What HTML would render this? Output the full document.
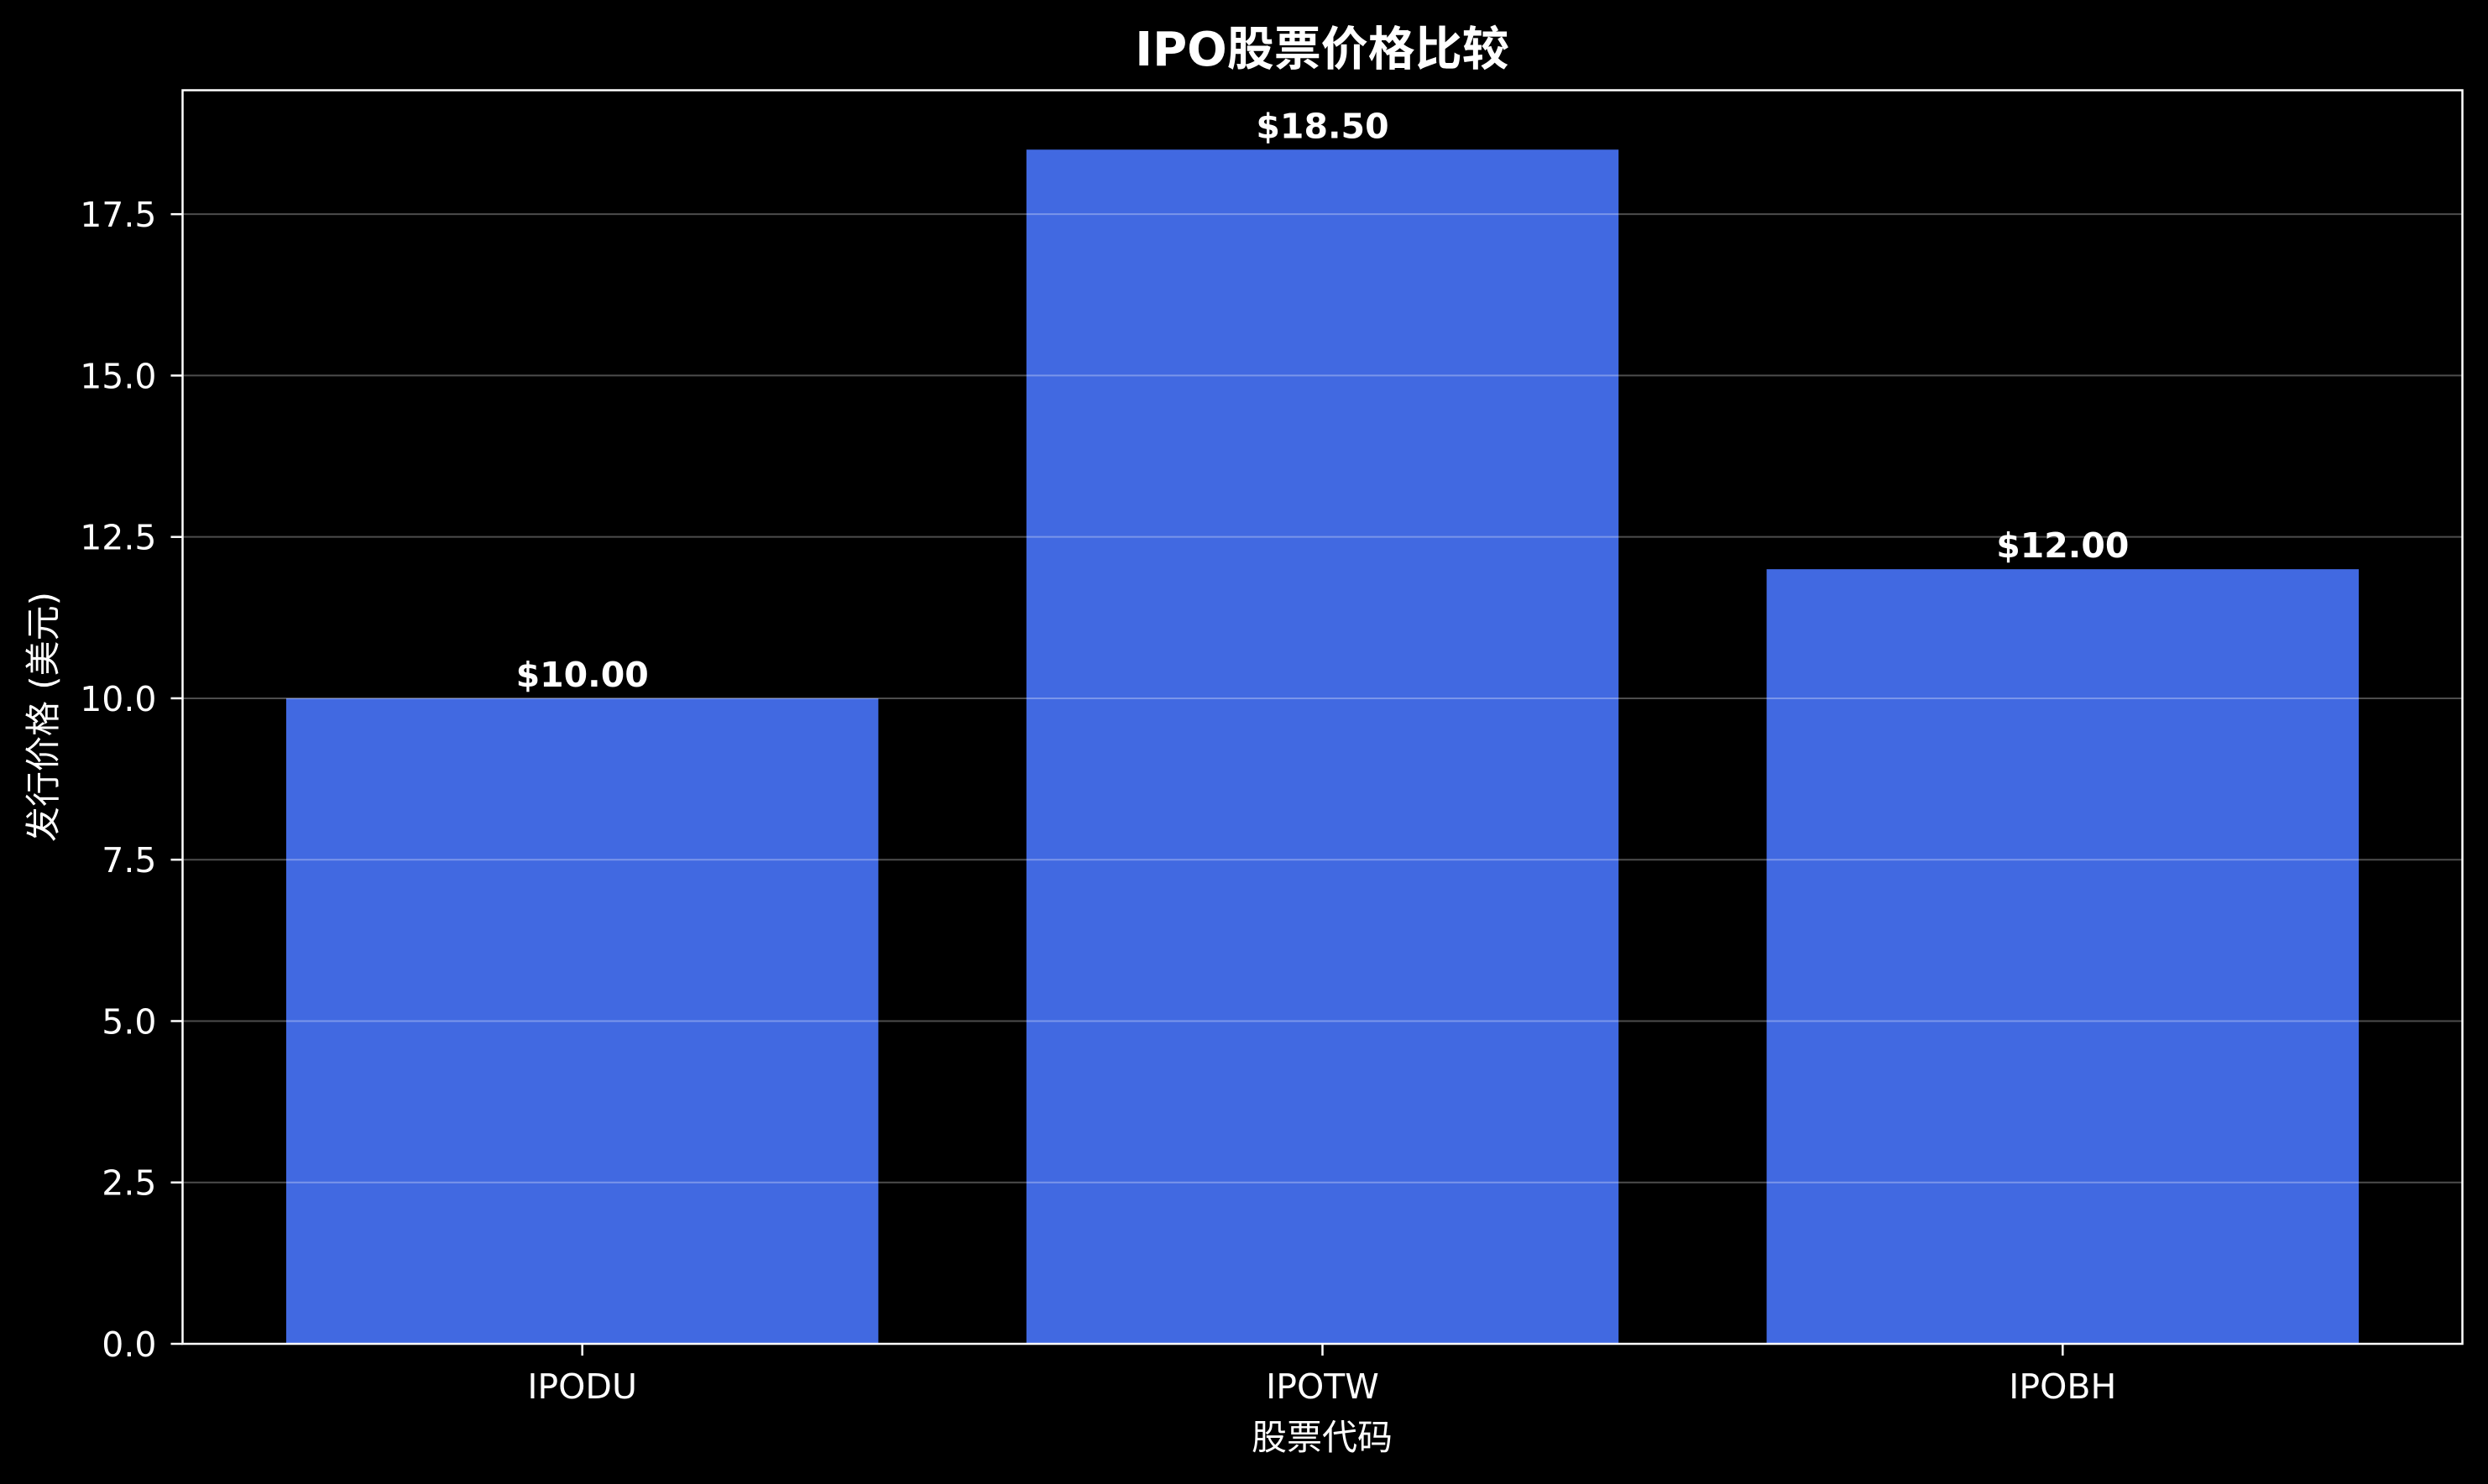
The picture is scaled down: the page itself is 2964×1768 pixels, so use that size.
<!DOCTYPE html>
<html><head><meta charset="utf-8"><style>
html,body{margin:0;padding:0;background:#000;}
svg{display:block;}
text{font-family:"DejaVu Sans","Liberation Sans","Noto Sans CJK SC",sans-serif;fill:#fff;}
</style></head><body>
<svg id="chart" width="2964" height="1768" viewBox="0 0 2964 1768">
<rect width="2964" height="1768" fill="#000"/>
<g id="bars"></g><g id="grid"></g><g id="axes"></g><g id="labels"></g>
<text x="1575" y="78" font-size="56" font-weight="bold" text-anchor="middle">IPO股票价格比较</text>
<text x="1575" y="1727" font-size="42" text-anchor="middle">股票代码</text>
<text transform="translate(66,854) rotate(-90)" font-size="42" text-anchor="middle">发行价格 (美元)</text>
</svg>
<script>
const categories = ["IPODU","IPOTW","IPOBH"];
const prices = [10.00, 18.50, 12.00];
const priceLabels = ["$10.00","$18.50","$12.00"];
const yTicks = [0,2.5,5,7.5,10,12.5,15,17.5];
const yTickLabels = ["0.0","2.5","5.0","7.5","10.0","12.5","15.0","17.5"];

const L=217.5,R=2933.5,T=107.5,B=1601;
const xMin=-0.54,xMax=2.54,yMin=0,yMax=19.42;
const xs=v=>L+(v-xMin)/(xMax-xMin)*(R-L);
const ys=v=>B-(v-yMin)/(yMax-yMin)*(B-T);
const NS="http://www.w3.org/2000/svg";
function mk(tag,attrs,parent){const e=document.createElementNS(NS,tag);for(const k in attrs)e.setAttribute(k,attrs[k]);document.getElementById(parent).appendChild(e);return e;}
const bw=0.8*(xs(1)-xs(0));
categories.forEach((c,i)=>{
  const b=mk("rect",{x:xs(i)-bw/2,y:ys(prices[i]),width:bw,height:ys(0)-ys(prices[i]),fill:"#4169e1"},"bars");
  
  
  const t=mk("text",{x:xs(i),y:ys(prices[i])-14,"font-size":41,"font-weight":"bold","text-anchor":"middle"},"labels");
  t.textContent=priceLabels[i];
  
  
  const tk=mk("line",{x1:xs(i),x2:xs(i),y1:B,y2:B+14,stroke:"#fff","stroke-width":2.5},"axes");
  
  
  const tl=mk("text",{x:xs(i),y:B+65,"font-size":41,"text-anchor":"middle"},"labels");
  tl.textContent=c;
  
  
});
yTicks.forEach((v,i)=>{
  if(v>0){const g=mk("line",{x1:L,x2:R,y1:ys(v),y2:ys(v),stroke:"#fff","stroke-opacity":0.3,"stroke-width":2},"grid");
  
  }
  const tk=mk("line",{x1:L-14,x2:L,y1:ys(v),y2:ys(v),stroke:"#fff","stroke-width":2.5},"axes");
  
  
  const tl=mk("text",{x:L-31,y:ys(v)+15,"font-size":41,"text-anchor":"end"},"labels");
  tl.textContent=yTickLabels[i];
  
  
});
const fr=mk("rect",{x:L,y:T,width:R-L,height:B-T,fill:"none",stroke:"#fff","stroke-width":2.5},"axes");


</script>
</body></html>
